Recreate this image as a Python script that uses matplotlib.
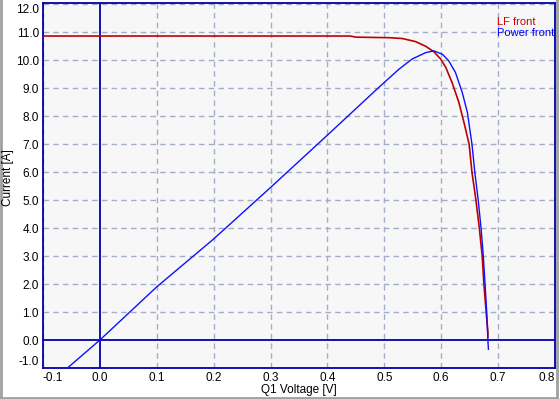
import matplotlib
matplotlib.use("Agg")
import matplotlib.pyplot as plt
from matplotlib.lines import Line2D

# LF front (red)
lf_v = [-0.1, 0.44, 0.45, 0.51, 0.532, 0.555, 0.573, 0.587, 0.599, 0.608,
        0.619, 0.631, 0.640, 0.649, 0.654, 0.661, 0.667, 0.672, 0.675,
        0.679, 0.682, 0.682]
lf_i = [10.86, 10.86, 10.82, 10.80, 10.77, 10.66, 10.49, 10.30, 10.04, 9.74,
        9.20, 8.49, 7.77, 7.0, 6.0, 5.0, 4.0, 3.0, 2.0,
        1.0, 0.3, 0.1]

# Power front (blue)
pw_v = [-0.057, 0.0, 0.1, 0.2, 0.3, 0.4, 0.49, 0.526, 0.549, 0.573, 0.587,
        0.602, 0.613, 0.625, 0.637, 0.646, 0.654, 0.659, 0.665, 0.670,
        0.674, 0.677, 0.680, 0.682, 0.683]
pw_i = [-1.0, 0.0, 1.90, 3.61, 5.45, 7.32, 9.02, 9.68, 10.04, 10.27, 10.33,
        10.21, 9.98, 9.56, 8.84, 8.13, 7.0, 6.0, 5.0, 4.0,
        3.0, 2.0, 1.0, 0.0, -0.33]

x_ticks = [-0.1, 0.0, 0.1, 0.2, 0.3, 0.4, 0.5, 0.6, 0.7, 0.8]
y_ticks = [-1.0, 0.0, 1.0, 2.0, 3.0, 4.0, 5.0, 6.0, 7.0, 8.0, 9.0, 10.0, 11.0, 12.0]

AXIS_BLUE = '#0000A8'
RED = '#C00000'
BLUE = '#1010FF'
GRID = '#A4AEC8'

plt.rcParams['font.family'] = ['Liberation Sans', 'DejaVu Sans']
plt.rcParams['font.size'] = 8

W, H = 560, 399
fig = plt.figure(figsize=(W / 100, H / 100), dpi=100)
ax = fig.add_axes([43 / W, 1 - 368 / H, 512 / W, 365 / H])
ax.set_facecolor('#F7F7F7')

ax.set_xlim(-0.1, 0.8)
ax.set_ylim(-1.0, 12.04)

# grid (dashed), skipping the zero lines which are solid
for xv in x_ticks:
    if xv != 0.0:
        ax.axvline(xv, color=GRID, lw=1, ls=(0, (4, 3)), zorder=1)
for yv in y_ticks:
    if yv != 0.0:
        ax.axhline(yv, color=GRID, lw=1, ls=(0, (4, 3)), zorder=1)
ax.axvline(0.0, color=AXIS_BLUE, lw=1.3, zorder=2)
ax.axhline(0.0, color=AXIS_BLUE, lw=1.3, zorder=2)

ax.plot(lf_v, lf_i, color=RED, lw=1.2, zorder=3)
ax.plot(pw_v, pw_i, color=BLUE, lw=1.0, zorder=4)

ax.set_xticks(x_ticks)
ax.set_xticklabels([f'{v:.1f}' for v in x_ticks])
ax.set_yticks(y_ticks)
ax.set_yticklabels([f'{v:.1f}' for v in y_ticks])
ax.tick_params(length=0, pad=3, labelsize=8.5, colors='black')
xl = ax.get_xticklabels()
xl[0].set_ha('left')
xl[-1].set_ha('right')
yl = ax.get_yticklabels()
yl[0].set_va('bottom')
yl[-1].set_va('top')

for sp in ax.spines.values():
    sp.set_color(AXIS_BLUE)
    sp.set_linewidth(1.3)

# axis titles placed in figure pixels
fig.text(299 / W, 1 - 390 / H, 'Q1 Voltage [V]', fontsize=8.5, ha='center', va='center')
fig.text(8 / W, 1 - 178 / H, 'Current [A]', fontsize=8.5, ha='center', va='center',
         rotation=90)

# legend as plain text
fig.text(497 / W, 1 - 21.7 / H, 'LF front', color='#CC0000', fontsize=8,
         ha='left', va='center')
fig.text(497 / W, 1 - 33.3 / H, 'Power front', color='#0000FF', fontsize=8,
         ha='left', va='center')

# sunken panel frame
fig.add_artist(Line2D([1 / W, 1 / W], [0, 1], color='#A0A0A0', lw=2, transform=fig.transFigure))
fig.add_artist(Line2D([0, 557 / W], [1 / H, 1 / H], color='#A0A0A0', lw=2, transform=fig.transFigure))
fig.add_artist(Line2D([557 / W, 557 / W], [0, 1], color='#A0A0A0', lw=2, transform=fig.transFigure))

fig.savefig('out.png', dpi=100)
